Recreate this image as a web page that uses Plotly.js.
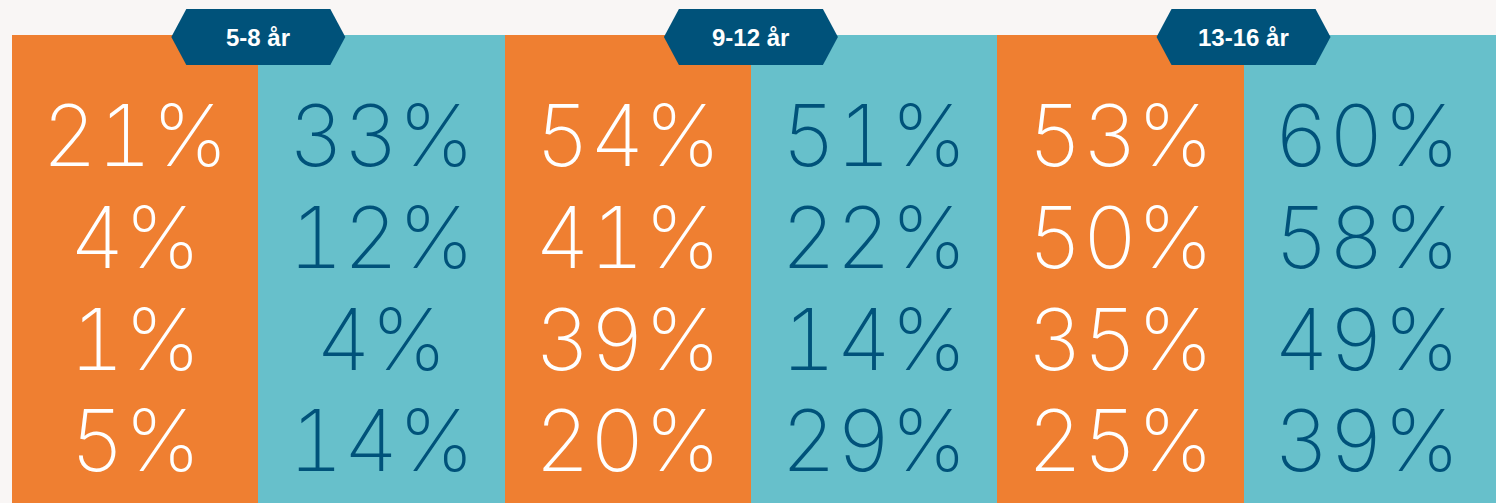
<!DOCTYPE html>
<html>
<head>
<meta charset="utf-8">
<script src="https://cdn.plot.ly/plotly-3.0.1.min.js"></script>
<style>
  html, body { margin: 0; padding: 0; background: #f9f6f5; }
  #chart { width: 1496px; height: 503px; }
  .textpoint text { font-feature-settings: "tnum" 1; font-variant-numeric: tabular-nums; }
</style>
</head>
<body>
<div id="chart"></div>
<script>
// ---- data ----
const ageGroups = ['5-8 år', '9-12 år', '13-16 år'];
const orangeValues = [
  [21, 4, 1, 5],
  [54, 41, 39, 20],
  [53, 50, 35, 25]
];
const tealValues = [
  [33, 12, 4, 14],
  [51, 22, 14, 29],
  [60, 58, 49, 39]
];
const rowIndex = [0, 1, 2, 3];

// ---- styling ----
const ORANGE = '#ef7f31';
const TEAL = '#67c0cb';
const NAVY = '#00527a';
const BG = '#f9f6f5';
const Y_TOP = -1.08, Y_BOTTOM = 3.52;
const X_MAX = 6.025;

const colX = [], colColor = [], colWidth = [];
ageGroups.forEach((g, i) => {
  colX.push(2 * i + 0.5, 2 * i + 1.5);
  colColor.push(ORANGE, TEAL);
  colWidth.push(1, i === ageGroups.length - 1 ? 1 + (X_MAX - 6) : 1);
});

const traces = [{
  type: 'bar',
  x: colX,
  y: colX.map(() => Y_BOTTOM - Y_TOP),
  base: Y_TOP,
  width: colWidth,
  offset: -0.5,
  marker: { color: colColor, line: { width: 0 } },
  hoverinfo: 'skip',
  showlegend: false
}];

function textTrace(values, offset, color) {
  const xs = [], ys = [], ts = [];
  values.forEach((arr, g) => {
    arr.forEach((v, r) => {
      xs.push(2 * g + offset);
      ys.push(rowIndex[r]);
      ts.push(v + '%');
    });
  });
  return {
    type: 'scatter', mode: 'text', x: xs, y: ys, text: ts,
    textposition: 'middle center',
    textfont: { family: 'Inter', size: 85, color: color, weight: 200 },
    hoverinfo: 'skip', showlegend: false, cliponaxis: false
  };
}
traces.push(textTrace(orangeValues, 0.5, '#ffffff'));
traces.push(textTrace(tealValues, 1.5, NAVY));

const shapes = ageGroups.map((g, i) => ({
  type: 'path', xref: 'x', yref: 'paper',
  xsizemode: 'pixel', ysizemode: 'pixel',
  xanchor: 2 * i + 1, yanchor: 1,
  path: 'M -87 -2 L -72 26 L 72 26 L 87 -2 L 72 -30 L -72 -30 Z',
  fillcolor: NAVY, line: { width: 0 }, layer: 'above'
}));

const annotations = ageGroups.map((g, i) => ({
  x: 2 * i + 1, y: 1, xref: 'x', yref: 'paper',
  yshift: -2, showarrow: false, text: '<b>' + g + '</b>',
  font: { family: 'Liberation Sans', size: 24, color: '#ffffff' },
  xanchor: 'center', yanchor: 'middle'
}));

const layout = {
  width: 1496, height: 503,
  margin: { l: 12, r: 0, t: 35, b: 0 },
  paper_bgcolor: BG, plot_bgcolor: BG,
  bargap: 0,
  xaxis: { range: [0, X_MAX], visible: false, fixedrange: true },
  yaxis: { range: [Y_BOTTOM, Y_TOP], visible: false, fixedrange: true },
  shapes: shapes,
  annotations: annotations,
  showlegend: false
};

Plotly.newPlot('chart', traces, layout, { displayModeBar: false, staticPlot: true });
</script>
</body>
</html>
